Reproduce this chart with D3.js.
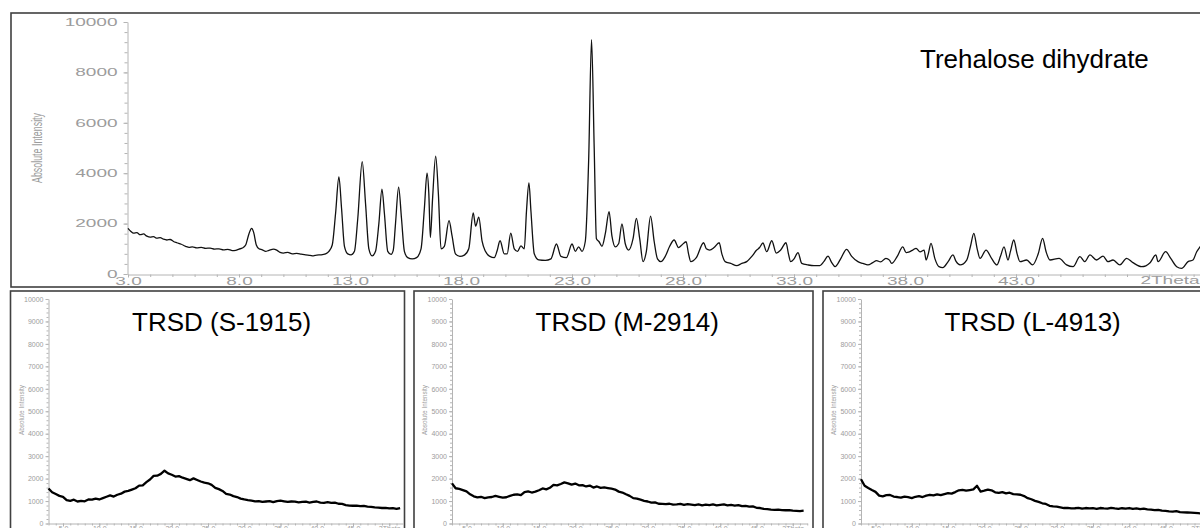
<!DOCTYPE html>
<html>
<head>
<meta charset="utf-8">
<script src="https://cdn.jsdelivr.net/npm/d3@7"></script>
<style>
  body { margin: 0; background: #fff; }
  svg { display: block; }
</style>
</head>
<body>
<svg id="chart" width="1200" height="528"></svg>
<script>
// ---------- Crystalline reference pattern (2θ in degrees, counts) ----------
const crystallineTitle = "Trehalose dihydrate";
const crystallinePattern = [
  [3.00,1810],[3.12,1700],[3.25,1620],[3.40,1640],[3.55,1560],[3.70,1590],[3.85,1500],[4.00,1460],
  [4.15,1480],[4.30,1420],[4.45,1440],[4.60,1380],[4.75,1350],[4.90,1370],[5.05,1290],[5.20,1240],
  [5.40,1180],[5.60,1100],[5.75,1060],[5.90,1080],[6.10,1040],[6.30,1060],[6.50,1020],[6.70,1030],
  [6.90,990],[7.10,1000],[7.30,960],[7.50,980],[7.70,930],[7.85,940],[8.00,990],[8.15,1030],
  [8.30,1150],[8.45,1600],[8.57,1810],[8.66,1650],[8.78,1150],[8.90,1000],[9.05,960],[9.20,900],
  [9.35,940],[9.55,990],[9.70,950],[9.85,860],[10.00,830],[10.20,860],[10.40,800],[10.60,820],
  [10.80,790],[11.00,760],[11.20,740],[11.35,720],[11.50,750],[11.70,760],[11.90,800],[12.05,900],
  [12.20,1150],[12.35,2400],[12.50,3850],[12.62,2600],[12.75,1100],[12.90,800],[13.05,760],[13.20,900],
  [13.35,2200],[13.55,4460],[13.70,2800],[13.85,1000],[14.00,720],[14.15,900],[14.30,2000],[14.44,3370],
  [14.55,2400],[14.70,900],[14.85,780],[14.95,950],[15.05,2000],[15.19,3450],[15.32,2200],[15.45,900],
  [15.60,650],[15.80,600],[16.00,650],[16.20,1000],[16.35,2600],[16.47,4000],[16.55,3200],[16.62,1450],
  [16.72,3000],[16.86,4680],[16.98,3200],[17.10,1000],[17.25,1100],[17.46,2115],[17.60,1500],[17.75,800],
  [17.95,700],[18.15,750],[18.35,1000],[18.55,2420],[18.66,1900],[18.80,2260],[18.95,1300],[19.10,900],
  [19.30,700],[19.50,650],[19.62,900],[19.76,1320],[19.95,800],[20.08,800],[20.24,1620],[20.40,1000],
  [20.55,900],[20.70,1120],[20.85,1000],[20.95,2500],[21.06,3620],[21.15,2500],[21.30,800],[21.50,560],
  [21.80,540],[22.05,600],[22.30,1190],[22.50,700],[22.75,650],[23.00,1190],[23.15,900],[23.30,1080],
  [23.45,900],[23.60,1300],[23.75,4500],[23.88,9300],[24.00,5000],[24.10,1400],[24.22,1280],[24.35,1100],
  [24.50,1600],[24.67,2470],[24.80,1500],[24.95,1080],[25.10,1200],[25.25,1985],[25.40,1200],[25.55,950],
  [25.75,1400],[25.90,2210],[26.05,1400],[26.20,490],[26.35,900],[26.54,2300],[26.70,1300],[26.85,600],
  [27.00,490],[27.20,700],[27.40,1100],[27.60,1350],[27.80,1050],[27.95,1150],[28.14,1280],[28.25,800],
  [28.35,490],[28.60,650],[28.93,1240],[29.05,1000],[29.20,950],[29.40,1050],[29.63,1240],[29.75,800],
  [29.90,490],[30.15,420],[30.42,330],[30.65,420],[30.87,490],[31.10,700],[31.32,950],[31.45,1050],
  [31.60,1230],[31.77,885],[32.00,1320],[32.20,830],[32.40,950],[32.64,1240],[32.75,800],[32.85,490],
  [33.00,600],[33.18,850],[33.35,420],[33.63,360],[33.90,330],[34.17,330],[34.35,500],[34.53,710],
  [34.70,450],[34.85,290],[35.10,600],[35.37,980],[35.60,700],[35.88,490],[36.10,420],[36.33,360],
  [36.55,450],[36.72,530],[36.90,480],[37.14,620],[37.30,550],[37.40,420],[37.65,700],[37.90,1080],
  [38.05,850],[38.20,880],[38.35,950],[38.50,1020],[38.68,880],[38.86,950],[38.95,555],[39.05,800],
  [39.17,1215],[39.35,600],[39.53,290],[39.70,250],[39.95,500],[40.16,755],[40.30,500],[40.48,360],
  [40.78,555],[40.95,1100],[41.10,1615],[41.25,1000],[41.38,620],[41.65,950],[41.90,620],[42.14,360],
  [42.30,700],[42.46,1080],[42.64,555],[42.75,900],[42.90,1350],[43.05,800],[43.18,490],[43.48,555],
  [43.75,360],[44.00,800],[44.20,1415],[44.35,900],[44.53,555],[44.94,620],[45.28,360],[45.57,290],
  [45.88,690],[46.10,490],[46.33,755],[46.63,555],[46.92,710],[47.14,490],[47.37,555],[47.68,360],
  [47.98,620],[48.27,450],[48.66,290],[49.04,450],[49.30,755],[49.40,490],[49.74,885],[49.97,620],
  [50.24,290],[50.46,225],[50.75,490],[50.97,555],[51.14,885],[51.29,1080],[51.45,1300]
];
const mainYTicks = [0, 2000, 4000, 6000, 8000, 10000];
const mainXTicks = [3, 8, 13, 18, 23, 28, 33, 38, 43];
const axisUnitLabel = "2Theta";
const intensityLabel = "Absolute Intensity";

// ---------- Amorphous samples: step scans starting at 3.0° with 0.5° steps ----------
const scanStart = 3.0;
const scanStep = 0.5;
const sampleTitles = ["TRSD (S-1915)", "TRSD (M-2914)", "TRSD (L-4913)"];
const countsS1915 = [
  1560,1390,1310,1230,1190,1040,1010,1060,980,1010,990,1070,1060,1110,1070,1130,1190,1250,1200,1280,
  1330,1420,1450,1510,1570,1690,1700,1840,1960,2120,2130,2210,2350,2230,2170,2090,2110,2040,1990,1930,
  2010,1940,1870,1820,1790,1720,1590,1530,1450,1320,1290,1220,1180,1110,1070,1040,1020,990,1000,960,
  980,1000,950,1000,1020,990,960,980,970,940,960,970,930,960,980,930,920,950,920,930,
  880,870,820,800,790,800,770,780,750,740,720,710,690,700,670,680,650,690
];
const countsM2914 = [
  1790,1570,1540,1490,1430,1300,1210,1160,1190,1130,1160,1180,1230,1190,1150,1170,1230,1280,1300,1260,
  1400,1430,1380,1420,1480,1560,1520,1590,1720,1700,1760,1830,1790,1730,1780,1700,1710,1650,1690,1600,
  1650,1590,1610,1580,1550,1510,1420,1380,1300,1230,1130,1110,1060,1010,980,930,940,880,870,860,
  880,840,850,870,830,860,840,820,850,810,840,820,850,810,830,850,810,830,800,820,
  770,780,750,760,700,690,650,640,620,610,620,600,590,600,570,560,550,570
];
const countsL4913 = [
  1970,1680,1580,1490,1410,1240,1210,1260,1270,1200,1180,1150,1200,1170,1130,1190,1220,1180,1240,1280,
  1250,1300,1260,1310,1350,1330,1400,1480,1500,1460,1490,1520,1680,1420,1460,1510,1480,1390,1360,1400,
  1340,1370,1310,1300,1280,1220,1130,1080,1010,960,900,870,790,760,750,720,690,700,670,680,
  700,660,690,670,680,650,690,670,660,700,670,650,680,660,690,650,670,640,660,630,
  620,600,610,570,560,540,530,550,510,500,490,480,470,460,450,470
];
const sampleCounts = [countsS1915, countsM2914, countsL4913];
const panelYTicks = [0,1000,2000,3000,4000,5000,6000,7000,8000,9000,10000];
const panelXTicks = [5,10,15,20,25,30,35,40,45,50];

// ---------- Styling ----------
const FONT = "'Liberation Sans', Arial, Helvetica, sans-serif";
const AXIS_GRAY = "#b4b4b4";
const LABEL_GRAY = "#9c9c9c";
const FRAME = "#404040";

const svg = d3.select("#chart");

// Wide tick lettering: stretch each label horizontally by a fixed factor.
function stretch(sel, factor) {
  sel.each(function () {
    const n = this.getComputedTextLength();
    d3.select(this).attr("textLength", n * factor).attr("lengthAdjust", "spacingAndGlyphs");
  });
}

// ================= Top panel =================
const topFrame = { left: 11, top: 13, bottom: 287 };
svg.append("rect")
  .attr("x", topFrame.left).attr("y", topFrame.top)
  .attr("width", 1210 - topFrame.left).attr("height", topFrame.bottom - topFrame.top)
  .attr("fill", "none").attr("stroke", FRAME).attr("stroke-width", 1.6);

svg.append("clipPath").attr("id", "topClip")
  .append("rect").attr("x", topFrame.left + 1).attr("y", topFrame.top + 1)
  .attr("width", 1200).attr("height", topFrame.bottom - topFrame.top - 2);

const mx = d3.scaleLinear().domain([3, 53]).range([128, 1238]);
const my = d3.scaleLinear().domain([0, 10000]).range([274, 22]);

const topG = svg.append("g").attr("clip-path", "url(#topClip)");

// minor ticks
topG.append("g").attr("transform", "translate(127.5,0)")
  .call(d3.axisLeft(my).tickValues(d3.range(0, 10001, 400)).tickSize(3).tickSizeOuter(0).tickFormat(""))
  .call(g => g.select(".domain").attr("stroke", AXIS_GRAY))
  .call(g => g.selectAll(".tick line").attr("stroke", AXIS_GRAY));
topG.append("g").attr("transform", "translate(0,274.5)")
  .call(d3.axisBottom(mx).tickValues(d3.range(3, 53, 1)).tickSize(2.5).tickSizeOuter(0).tickFormat(""))
  .call(g => g.select(".domain").attr("stroke", AXIS_GRAY))
  .call(g => g.selectAll(".tick line").attr("stroke", AXIS_GRAY));

// labelled ticks
const yAx = topG.append("g").attr("transform", "translate(127.5,0)")
  .call(d3.axisLeft(my).tickValues(mainYTicks).tickSize(4).tickPadding(6).tickSizeOuter(0).tickFormat(d3.format("d")));
yAx.select(".domain").remove();
yAx.selectAll(".tick line").attr("stroke", AXIS_GRAY);
yAx.selectAll(".tick text").attr("fill", LABEL_GRAY).attr("font-family", FONT).attr("font-size", 10);
stretch(yAx.selectAll(".tick text"), 1.9);

const xAx = topG.append("g").attr("transform", "translate(0,274.5)")
  .call(d3.axisBottom(mx).tickValues(mainXTicks).tickSize(3).tickPadding(0).tickSizeOuter(0).tickFormat(d3.format(".1f")));
xAx.select(".domain").remove();
xAx.selectAll(".tick line").attr("stroke", AXIS_GRAY);
xAx.selectAll(".tick text").attr("fill", LABEL_GRAY).attr("font-family", FONT).attr("font-size", 10);
stretch(xAx.selectAll(".tick text"), 1.9);

const unitTop = topG.append("text")
  .attr("x", 1170).attr("y", 283.5).attr("text-anchor", "middle")
  .attr("fill", LABEL_GRAY).attr("font-family", FONT).attr("font-size", 10)
  .text(axisUnitLabel);
stretch(unitTop, 1.9);

svg.append("text")
  .attr("transform", "translate(42,148) rotate(-90)")
  .attr("text-anchor", "middle")
  .attr("fill", LABEL_GRAY).attr("font-family", FONT).attr("font-size", 14)
  .attr("textLength", 70).attr("lengthAdjust", "spacingAndGlyphs")
  .text(intensityLabel);

topG.append("path")
  .datum(crystallinePattern)
  .attr("fill", "none").attr("stroke", "#111").attr("stroke-width", 1.3)
  .attr("stroke-linejoin", "round")
  .attr("d", d3.line().x(d => mx(d[0])).y(d => my(d[1])).curve(d3.curveMonotoneX));

svg.append("text")
  .attr("x", 920).attr("y", 68)
  .attr("font-family", FONT).attr("font-size", 26).attr("fill", "#000")
  .text(crystallineTitle);

// ================= Lower panels =================
const panelLefts = [10.5, 414, 823];
const panelWidths = [394, 399, 400];
const panelTop = 291;

panelLefts.forEach((left, k) => {
  const g = svg.append("g");
  const clipId = "panelClip" + k;
  svg.append("clipPath").attr("id", clipId)
    .append("rect").attr("x", left + 1).attr("y", panelTop + 1)
    .attr("width", panelWidths[k] - 2).attr("height", 260);

  g.append("rect")
    .attr("x", left).attr("y", panelTop)
    .attr("width", panelWidths[k]).attr("height", 260)
    .attr("fill", "none").attr("stroke", FRAME).attr("stroke-width", 1.6);

  const inner = g.append("g").attr("clip-path", `url(#${clipId})`);
  const ox = left + 38;
  const px = d3.scaleLinear().domain([3, 52]).range([ox, ox + 49 * 7.25]);
  const py = d3.scaleLinear().domain([0, 10000]).range([523.5, 299]);

  // minor ticks
  inner.append("g").attr("transform", `translate(${ox},0)`)
    .call(d3.axisLeft(py).tickValues(d3.range(0, 10001, 200)).tickSize(2).tickSizeOuter(0).tickFormat(""))
    .call(s => s.select(".domain").attr("stroke", AXIS_GRAY))
    .call(s => s.selectAll(".tick line").attr("stroke", AXIS_GRAY));
  inner.append("g").attr("transform", "translate(0,523.5)")
    .call(d3.axisBottom(px).tickValues(d3.range(3, 53, 1)).tickSize(2).tickSizeOuter(0).tickFormat(""))
    .call(s => s.select(".domain").attr("stroke", AXIS_GRAY))
    .call(s => s.selectAll(".tick line").attr("stroke", AXIS_GRAY));

  const ya = inner.append("g").attr("transform", `translate(${ox},0)`)
    .call(d3.axisLeft(py).tickValues(panelYTicks).tickSize(3).tickPadding(2).tickSizeOuter(0).tickFormat(d3.format("d")));
  ya.select(".domain").remove();
  ya.selectAll(".tick line").attr("stroke", AXIS_GRAY);
  ya.selectAll(".tick text").attr("fill", LABEL_GRAY).attr("font-family", FONT).attr("font-size", 7);

  const xa = inner.append("g").attr("transform", "translate(0,523.5)")
    .call(d3.axisBottom(px).tickValues(panelXTicks).tickSize(3).tickPadding(0).tickSizeOuter(0)
      .tickFormat(d => d === 50 ? axisUnitLabel : d3.format(".1f")(d)));
  xa.select(".domain").remove();
  xa.selectAll(".tick line").attr("stroke", AXIS_GRAY);
  xa.selectAll(".tick text").attr("fill", LABEL_GRAY).attr("font-family", FONT).attr("font-size", 7);

  g.append("text")
    .attr("transform", `translate(${left + 13},410) rotate(-90)`)
    .attr("text-anchor", "middle")
    .attr("fill", LABEL_GRAY).attr("font-family", FONT).attr("font-size", 7)
    .attr("textLength", 50).attr("lengthAdjust", "spacingAndGlyphs")
    .text(intensityLabel);

  inner.append("path")
    .datum(sampleCounts[k])
    .attr("fill", "none").attr("stroke", "#000").attr("stroke-width", 2.3)
    .attr("stroke-linejoin", "round")
    .attr("d", d3.line().x((d, i) => px(scanStart + i * scanStep)).y(d => py(d)));

  g.append("text")
    .attr("x", left + 121.5).attr("y", 331)
    .attr("font-family", FONT).attr("font-size", 26).attr("fill", "#000")
    .text(sampleTitles[k]);
});
</script>
</body>
</html>
